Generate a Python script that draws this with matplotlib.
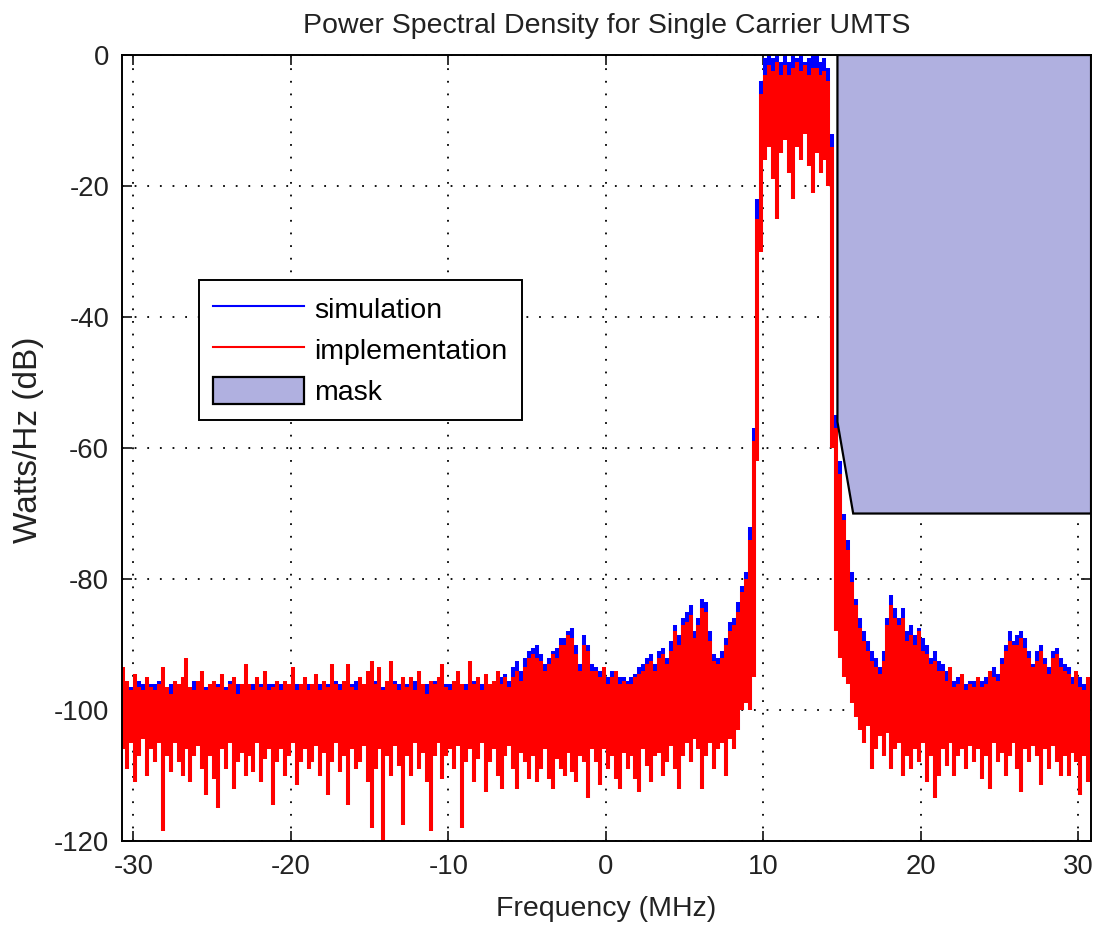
import matplotlib
matplotlib.use("Agg")
import matplotlib.pyplot as plt
import numpy as np
from matplotlib.lines import Line2D
from matplotlib.patches import Patch

plt.rcParams['font.family'] = ['Liberation Sans', 'DejaVu Sans']
plt.rcParams['axes.unicode_minus'] = False

# frequency bins (MHz), 0.25 MHz wide, centre values
freq = np.arange(-30.625, 30.7, 0.25)

# simulation: top of the PSD trace per bin (dB)
sim_hi = [
    -95.5, -96, -96.5, -96, -95.5, -96, -96.5, -96,
    -96, -95.5, -96, -96.5, -96, -95.5, -96, -96,
    -96, -96.5, -95.5, -96, -96, -96.5, -96, -95.5,
    -96, -96, -96.5, -95.5, -96, -96, -96.5, -96,
    -96.5, -96, -95.5, -96, -96.5, -96, -96, -95.5,
    -96, -96.5, -96, -95.5, -96, -96, -96.5, -96,
    -96, -95.5, -96, -96.5, -96, -96, -95.5, -96,
    -96.5, -96, -96, -95.5, -96, -96.5, -96, -96,
    -95.5, -96, -96.5, -96, -96, -95.5, -96, -96.5,
    -96, -96, -95.5, -96, -96.5, -96, -96, -95.5,
    -96, -96.5, -96, -96, -95.5, -96, -96.5, -96,
    -96, -95.5, -96, -96, -96.5, -96, -95.5, -95,
    -95, -94.5, -95.5, -93.5, -92.5, -94, -92, -91,
    -90.5, -90, -91.5, -93, -92, -91, -90.5, -89,
    -89, -88, -87.5, -90, -93, -88.5, -90, -93,
    -93.5, -94, -94.5, -95, -94, -94.5, -95, -95,
    -95.5, -95, -94.5, -93.5, -93, -92, -91.5, -93,
    -91, -90.5, -92, -89.5, -87, -88.5, -86, -85,
    -84, -88, -86, -83, -83.5, -88, -91.5, -92,
    -91, -89, -86.5, -86, -83.5, -81, -79, -72,
    -57, -22, -4, -0.5, 0, -0.5, 0, -1,
    0, -1, 0, -0.5, 0, -1, -0.5, 0,
    0, -1, -0.5, -2, -12, -55, -62, -70,
    -74, -79, -83, -86, -88, -89.5, -91, -92,
    -93.5, -91, -86, -82.5, -84.5, -86, -84.5, -88,
    -87, -88.5, -87.5, -89, -90, -92, -91, -92.5,
    -93, -94, -94.5, -95.5, -95, -95.5, -96, -95.5,
    -95.5, -96, -95.5, -95, -95.5, -93.5, -94.5, -92,
    -90, -88, -89.5, -88.5, -88, -89, -91, -93,
    -91, -90, -92, -93.5, -91, -90.5, -92, -93,
    -93.5, -95, -95.5, -95, -96, -95.5,
]

# implementation: top and bottom of the PSD trace per bin (dB)
impl_hi = [
    -93.5, -95.5, -97, -94.5, -96.5, -97, -95, -96.5,
    -97, -96, -93.5, -96.5, -97.5, -95.5, -96, -95,
    -92, -96.5, -97, -95.5, -94, -97, -96, -95.5,
    -96.5, -94.5, -97, -96, -95, -97.5, -96, -93,
    -96, -97, -95, -96.5, -94, -97, -96.5, -95.5,
    -97, -95.5, -96, -93.5, -97, -96, -95, -97,
    -96, -94.5, -97, -95.5, -96.5, -93, -96, -97,
    -95.5, -93, -96.5, -97, -95, -96, -94, -92.5,
    -96, -93.5, -97, -95.5, -92.5, -96, -97, -95,
    -96.5, -95, -97, -94, -96, -97.5, -95.5, -96,
    -95, -93, -96.5, -97, -95.5, -94, -96, -97,
    -92.5, -96, -95, -97, -94.5, -96, -95.5, -94,
    -96, -95, -96.5, -95, -94, -95.5, -93.5, -92,
    -91.5, -92, -92.5, -94, -93, -91.5, -92, -90,
    -90, -88.5, -89, -91.5, -94, -90, -91, -94,
    -94, -95, -93.5, -96, -95, -94, -96, -95.5,
    -96, -96, -95, -94.5, -94, -93, -92.5, -94,
    -92, -91.5, -93, -91, -88, -90, -87, -86.5,
    -85.5, -89, -87, -84.5, -85, -89.5, -92.5, -93,
    -92, -90, -88, -87, -85, -82, -80, -74,
    -59, -25, -6, -3, -1.5, -2.5, -1, -3,
    -1.5, -3, -2, -1, -2.5, -1.5, -3, -2,
    -2, -3, -2.5, -4, -14, -57, -64, -71,
    -75.5, -80.5, -84, -87.5, -89.5, -91, -92.5, -93.5,
    -94.5, -92.5, -87, -84, -86, -87, -86, -89.5,
    -88.5, -90, -88, -91, -91.5, -93, -92.5, -94,
    -94, -95.5, -93.5, -96.5, -96, -94.5, -97, -96,
    -96.5, -95, -96.5, -96, -94, -95, -95.5, -93,
    -91, -89.5, -90, -90, -89, -90.5, -92, -93.5,
    -92.5, -91, -93, -94.5, -92, -91.5, -93.5, -94,
    -94.5, -96, -94, -96.5, -97, -95,
]
impl_lo = [
    -106, -109, -105, -111, -107, -104.5, -110, -106,
    -108, -105, -118.5, -107, -109.5, -105, -108, -110,
    -106, -111, -107, -105.5, -109, -113, -107, -110.5,
    -115, -106, -109, -105, -112, -108, -106.5, -110,
    -107, -109.5, -105, -111, -107.5, -106, -114.5, -108,
    -106, -110, -107, -105, -111.5, -108, -106, -109,
    -108, -105.5, -110, -106.5, -113, -108, -105, -109.5,
    -107, -114.5, -106, -109, -108, -105.5, -111, -118,
    -109, -106, -120, -107, -110, -105.5, -108.5, -117.5,
    -107, -110, -105, -109, -106.5, -111, -118.5, -107,
    -105, -110.5, -107, -106, -109, -105.5, -118, -108,
    -106, -111, -107.5, -105, -112.5, -108, -106, -110,
    -112, -107, -105.5, -109, -112, -106.5, -108, -110.5,
    -107, -111, -109, -106, -110.5, -112, -107.5, -109,
    -110, -106.5, -109.5, -111, -107, -108, -113.5, -106,
    -108, -111.5, -106, -109, -107, -110.5, -112, -106.5,
    -109, -107, -110.5, -112.5, -106, -108.5, -111, -107,
    -106.5, -110, -108, -105.5, -109, -112, -107, -105,
    -108, -104.5, -106, -112, -107, -105, -109, -106,
    -105, -110, -104.5, -106, -103, -100, -99, -100,
    -95, -62, -30, -16, -14, -19, -25, -15,
    -13, -18, -22, -14, -16, -12, -17, -21,
    -15, -18, -16, -20, -60, -88, -92, -95,
    -96, -99, -101, -103, -105, -102.5, -109, -106,
    -104, -107, -103.5, -109, -106, -105, -110, -107,
    -109, -106, -108, -105, -111, -107, -113.5, -110,
    -106, -108.5, -105, -110, -107, -106, -109, -105.5,
    -108, -106, -110.5, -107, -112, -105, -108, -106.5,
    -110, -107, -105, -109, -112.5, -106, -108, -105.5,
    -107, -111.5, -106, -109, -105.5, -108, -110, -107,
    -110, -106.5, -108, -113, -107, -111,
]

# spectral emission mask (MHz, dB)
mask_f = [14.7, 14.7, 15.7, 30.8, 30.8]
mask_db = [0, -56, -70, -70, 0]
mask_color = "#b0b0e0"

fig = plt.figure(figsize=(10.94, 9.25), dpi=100)
ax = fig.add_axes([0.1112, 0.0908, 0.8861, 0.8497])

bar_w = 2.9
ax.vlines(freq, impl_lo, sim_hi, color="blue", linewidth=bar_w, zorder=2)
ax.vlines(freq, impl_lo, impl_hi, color="red", linewidth=bar_w, zorder=2.1)
ax.fill(mask_f, mask_db, facecolor=mask_color, edgecolor="black", linewidth=1.6, zorder=3)

ax.set_xlim(-30.74, 30.80)
ax.set_ylim(-120, 0)
ax.set_xticks([-30, -20, -10, 0, 10, 20, 30])
ax.set_yticks([-120, -100, -80, -60, -40, -20, 0])
ax.grid(True, color="black", linestyle=(0, (1, 6)), linewidth=1.3)
ax.set_axisbelow(True)
ax.tick_params(direction="in", length=7, width=1.3, top=True, right=True,
               labelsize=19.8, colors="#222222")
ax.tick_params(axis="x", pad=9)
ax.tick_params(axis="y", pad=9)
for s in ax.spines.values():
    s.set_linewidth(1.4)

ax.set_title("Power Spectral Density for Single Carrier UMTS", fontsize=20.5, pad=16, color="#222222")
ax.set_xlabel("Frequency (MHz)", fontsize=20.5, color="#222222", labelpad=12)
ax.set_ylabel("Watts/Hz (dB)", fontsize=24, color="#222222")
ax.yaxis.set_label_coords(-0.080, 0.51)

handles = [
    Line2D([], [], color="blue", linewidth=1.5),
    Line2D([], [], color="red", linewidth=1.5),
    Patch(facecolor=mask_color, edgecolor="black", linewidth=1.6),
]
leg = ax.legend(handles, ["simulation", "implementation", "mask"],
                loc="upper left", bbox_to_anchor=(0.0797, 0.7137), borderaxespad=0,
                fontsize=20.5, handlelength=3.2, handleheight=1.1, handletextpad=0.35,
                labelspacing=0.42, borderpad=0.5, fancybox=False, framealpha=1)
leg.get_frame().set_edgecolor("black")
leg.get_frame().set_linewidth(1.4)

fig.savefig("out.png", dpi=100)
